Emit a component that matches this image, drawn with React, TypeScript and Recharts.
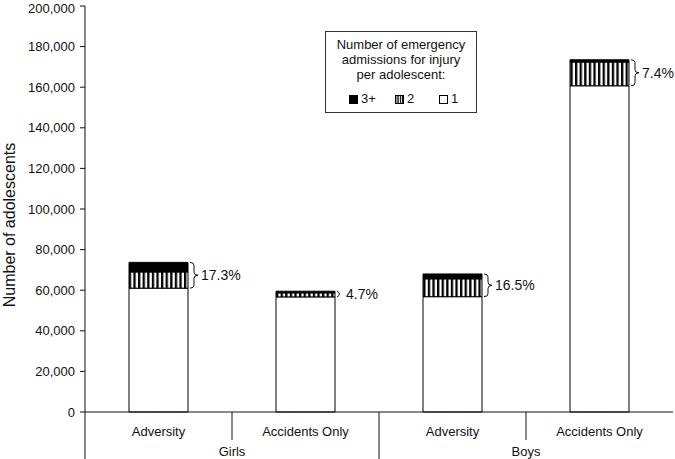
import { BarChart, Bar, XAxis, YAxis, LabelList } from "recharts";

// values
const categories = ["Adversity", "Accidents Only", "Adversity", "Accidents Only"];
const groups = ["Girls", "Girls", "Boys", "Boys"];
const oneAdmission = [61000, 56700, 56800, 160700];
const twoAdmissions = [8000, 2000, 8800, 11700];
const threePlusAdmissions = [4700, 800, 2400, 1100];
const percentLabels = ["17.3%", "4.7%", "16.5%", "7.4%"];
const yTicks = [0, 20000, 40000, 60000, 80000, 100000, 120000, 140000, 160000, 180000, 200000];

const chartData = categories.map((name, i) => ({
  name,
  group: groups[i],
  one: oneAdmission[i],
  two: twoAdmissions[i],
  three: threePlusAdmissions[i],
  pct: percentLabels[i],
}));

const W = 675;
const H = 459;
const Y_AXIS_W = 85;
const X_AXIS_H = 47;
const MARGIN = { top: 6, right: 2, left: 0, bottom: 0 };
const PLOT_BOTTOM = H - MARGIN.bottom - X_AXIS_H;
const BAND = (W - Y_AXIS_W - MARGIN.left - MARGIN.right) / categories.length;
const FONT = "'Liberation Sans', Arial, Helvetica, sans-serif";
const INK = "#111";

function fmt(v: number) {
  return v.toLocaleString("en-US");
}

function CategoryTick(props: any) {
  const { x, payload } = props;
  const i = payload.index;
  const half = BAND / 2;
  const out: any[] = [];
  if (i === 0) {
    out.push(<line key="l" x1={x - half} x2={x - half} y1={PLOT_BOTTOM} y2={H} stroke={INK} />);
  }
  if (i < categories.length - 1) {
    const full = groups[i] !== groups[i + 1];
    out.push(
      <line key="d" x1={x + half} x2={x + half} y1={PLOT_BOTTOM} y2={full ? H : PLOT_BOTTOM + 28} stroke={INK} />
    );
  }
  if (i % 2 === 0) {
    out.push(
      <text key="g" x={x + half} y={PLOT_BOTTOM + 44} textAnchor="middle" fontSize={13} fill={INK} fontFamily={FONT}>
        {groups[i]}
      </text>
    );
  }
  return (
    <g>
      <text x={x} y={PLOT_BOTTOM + 24} textAnchor="middle" fontSize={13} fill={INK} fontFamily={FONT}>
        {payload.value}
      </text>
      {out}
    </g>
  );
}

function BraceLabel(props: any) {
  const { x, y, width, height, index } = props;
  const d = chartData[index];
  const scale = height / d.one;
  const top = y - (d.two + d.three) * scale;
  const bottom = y;
  const mid = (top + bottom) / 2;
  const x0 = x + width + 2;
  const span = bottom - top;
  let path: string;
  if (span < 10) {
    path = `M${x0},${top} Q${x0 + 5},${mid} ${x0},${bottom}`;
  } else {
    const r = 3;
    path = `M${x0},${top} Q${x0 + 4},${top} ${x0 + 4},${top + r} L${x0 + 4},${mid - r} Q${x0 + 4},${mid} ${x0 + 8},${mid} Q${x0 + 4},${mid} ${x0 + 4},${mid + r} L${x0 + 4},${bottom - r} Q${x0 + 4},${bottom} ${x0},${bottom}`;
  }
  return (
    <g>
      <path d={path} fill="none" stroke={INK} strokeWidth={1} />
      <text x={x0 + (span < 10 ? 9 : 11)} y={mid + 5} fontSize={14} fill={INK} fontFamily={FONT}>
        {d.pct}
      </text>
    </g>
  );
}

function Swatch({ kind }: { kind: string }) {
  return (
    <svg width={9} height={9} style={{ verticalAlign: "-1px", marginRight: 3 }}>
      <defs>
        <pattern id="stripesLegend" width={2.4} height={10} patternUnits="userSpaceOnUse">
          <rect width={2.4} height={10} fill="#fff" />
          <rect width={1.3} height={10} fill="#000" />
        </pattern>
      </defs>
      <rect
        x={0.5}
        y={0.5}
        width={8}
        height={8}
        fill={kind === "three" ? "#000" : kind === "two" ? "url(#stripesLegend)" : "#fff"}
        stroke="#000"
      />
    </svg>
  );
}

const legendItems = [
  { kind: "three", label: "3+", left: 23 },
  { kind: "two", label: "2", left: 69 },
  { kind: "one", label: "1", left: 113 },
];

export default function App() {
  return (
    <div style={{ position: "relative", width: W, height: H, fontFamily: FONT }}>
      <style>{`body{margin:0}`}</style>
      <BarChart width={W} height={H} data={chartData} margin={MARGIN}>
        <defs>
          <pattern id="stripes" width={4.6} height={10} patternUnits="userSpaceOnUse">
            <rect width={4.6} height={10} fill="#fff" />
            <rect width={2.3} height={10} fill="#000" />
          </pattern>
        </defs>
        <XAxis
          dataKey="name"
          height={X_AXIS_H}
          tickLine={false}
          axisLine={{ stroke: INK }}
          tick={<CategoryTick />}
          interval={0}
        />
        <YAxis
          width={Y_AXIS_W}
          domain={[0, 200000]}
          ticks={yTicks}
          tickFormatter={fmt}
          tickSize={5}
          tickMargin={5}
          axisLine={{ stroke: INK }}
          tickLine={{ stroke: INK }}
          tick={{ fontSize: 13, fill: INK, fontFamily: FONT }}
          label={(p: any) => {
            const vb = p.viewBox;
            const cy = vb.y + vb.height / 2 + 16;
            return (
              <text
                x={15}
                y={cy}
                transform={`rotate(-90, 15, ${cy})`}
                textAnchor="middle"
                fontSize={16}
                fill={INK}
                fontFamily={FONT}
              >
                Number of adolescents
              </text>
            );
          }}
        />
        <Bar dataKey="one" stackId="a" fill="#fff" stroke="#000" barSize={59} isAnimationActive={false}>
          <LabelList dataKey="one" content={<BraceLabel />} />
        </Bar>
        <Bar dataKey="two" stackId="a" fill="url(#stripes)" stroke="#000" barSize={59} isAnimationActive={false} />
        <Bar dataKey="three" stackId="a" fill="#000" stroke="#000" barSize={59} isAnimationActive={false} />
      </BarChart>
      <div
        style={{
          position: "absolute",
          left: 325,
          top: 31,
          width: 150,
          height: 80,
          border: "1px solid #333",
          fontSize: 13,
          color: INK,
          textAlign: "center",
          lineHeight: "15px",
          boxSizing: "content-box",
          background: "#fff",
        }}
      >
        <div style={{ paddingTop: 5 }}>Number of emergency</div>
        <div>admissions for injury</div>
        <div>per adolescent:</div>
        {legendItems.map((it) => (
          <span key={it.kind} style={{ position: "absolute", left: it.left, top: 59, whiteSpace: "nowrap" }}>
            <Swatch kind={it.kind} />
            {it.label}
          </span>
        ))}
      </div>
    </div>
  );
}
